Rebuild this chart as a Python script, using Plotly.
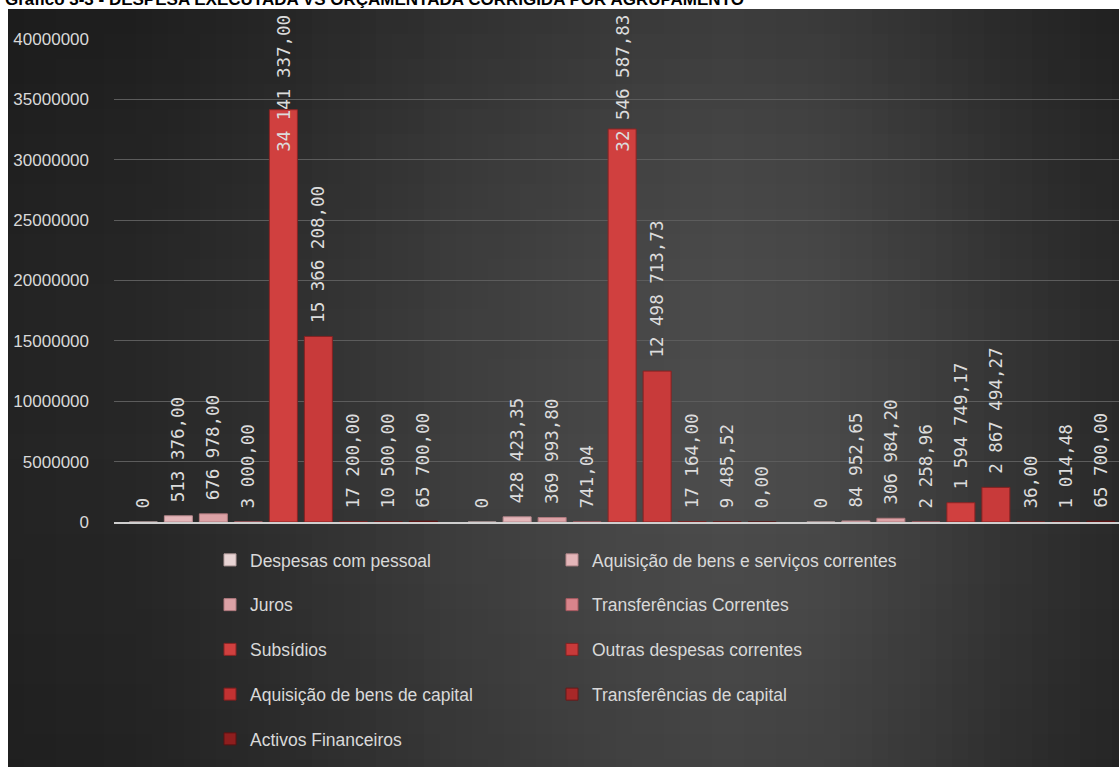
import plotly.graph_objects as go

# ---------------- data ----------------
categories = ["Orçamentada corrigida", "Executada", "Desvio"]
series_names = [
    "Despesas com pessoal",
    "Aquisição de bens e serviços correntes",
    "Juros",
    "Transferências Correntes",
    "Subsídios",
    "Outras despesas correntes",
    "Aquisição de bens de capital",
    "Transferências de capital",
    "Activos Financeiros",
]
orcamentada = [0, 513376.00, 676978.00, 3000.00, 34141337.00, 15366208.00, 17200.00, 10500.00, 65700.00]
executada = [0, 428423.35, 369993.80, 741.04, 32546587.83, 12498713.73, 17164.00, 9485.52, 0.00]
desvio = [0, 84952.65, 306984.20, 2258.96, 1594749.17, 2867494.27, 36.00, 1014.48, 65700.00]
y_tick_values = [0, 5000000, 10000000, 15000000, 20000000, 25000000, 30000000, 35000000, 40000000]

title_text = "Gráfico 3-3 - DESPESA EXECUTADA VS ORÇAMENTADA CORRIGIDA POR AGRUPAMENTO"

# ---------------- styles ----------------
colors = ["#e8d4d4", "#e4b6b9", "#dca2a6", "#d8848b", "#d0403f",
          "#c83a3a", "#c23232", "#a82828", "#8e1e1e"]
line_colors = ["#b8a0a0", "#b88a8e", "#b07a7e", "#a85a60", "#8a2424",
               "#842222", "#7e1e1e", "#6a1818", "#5a1212"]
LABEL_FONT = dict(family="DejaVu Sans Mono", size=17.5, color="#dcdcdc")

W, H = 1119, 767
ML, MR, MT, MB = 114, 0, 39, 245
PW, PH = W - ML - MR, H - MT - MB
CAT_PX = 338.75
BARGAP = 1 - 9 * 35 / CAT_PX
BARGROUPGAP = 0.2
BIG = 30000000


def px_x(p):
    return (p - ML) / PW


def px_y(p):
    return (H - MB - p) / PH


def fmt(v, i):
    if i == 0:
        return "0"
    s = f"{v:,.2f}"
    return s.replace(",", " ").replace(".", ",")


fig = go.Figure()
annotations = []
slot = (1 - BARGAP) / len(series_names)
for i, name in enumerate(series_names):
    vals = [orcamentada[i], executada[i], desvio[i]]
    texts = []
    for j, v in enumerate(vals):
        if v > BIG:
            texts.append("")
            annotations.append(dict(
                x=j - (1 - BARGAP) / 2 + slot * (i + 0.5), y=y_tick_values[-1],
                xref="x", yref="y", text=fmt(v, i), textangle=-90,
                showarrow=False, yanchor="top", xanchor="center", yshift=26,
                font=LABEL_FONT))
        else:
            texts.append("\u00a0" + fmt(v, i))
    fig.add_trace(go.Bar(
        name=name, x=categories, y=vals, text=texts,
        textposition="outside", textangle=-90, cliponaxis=False,
        constraintext="none",
        textfont=LABEL_FONT,
        marker=dict(color=colors[i], line=dict(color=line_colors[i], width=1)),
        legendgroup=name,
        legendwidth=(297 if i % 2 == 0 else 345),
    ))

# ---------------- background gradient ----------------
shapes = []
shapes.append(dict(type="rect", xref="paper", yref="paper", layer="below",
                   x0=px_x(8), x1=px_x(W + 2), y0=px_y(H + 2), y1=px_y(9),
                   fillcolor="#3a3a3a", line=dict(width=0)))
ctrl = [(8, 36), (150, 40), (300, 50), (450, 62), (600, 72), (720, 77),
        (820, 74), (920, 64), (1020, 52), (1119, 42)]


def gray_at(p):
    for (a, ca), (b, cb) in zip(ctrl[:-1], ctrl[1:]):
        if a <= p <= b:
            return ca + (cb - ca) * (p - a) / (b - a)
    return ctrl[-1][1]


step = 16
p = 8
while p < W:
    g = int(round(gray_at(p + step / 2)))
    shapes.append(dict(type="rect", xref="paper", yref="paper", layer="below",
                       x0=px_x(p), x1=px_x(min(p + step, W) + 0.5),
                       y0=px_y(H + 2), y1=px_y(9),
                       fillcolor=f"rgb({g},{g},{g})", line=dict(width=0)))
    p += step
vctrl = [(9, 0.22), (150, 0.10), (300, 0.02), (450, 0.0), (600, 0.04), (767, 0.12)]


def alpha_at(q):
    for (a, ca), (b, cb) in zip(vctrl[:-1], vctrl[1:]):
        if a <= q <= b:
            return ca + (cb - ca) * (q - a) / (b - a)
    return vctrl[-1][1]


vstep = 25
q = 9
while q < H:
    a = alpha_at(q + vstep / 2)
    shapes.append(dict(type="rect", xref="paper", yref="paper", layer="below",
                       x0=px_x(8), x1=px_x(W + 2), y0=px_y(min(q + vstep, H + 2)), y1=px_y(q),
                       fillcolor=f"rgba(0,0,0,{a:.3f})", line=dict(width=0)))
    q += vstep

annotations.append(dict(
    x=px_x(3), y=px_y(11), xref="paper", yref="paper", xanchor="left", yanchor="bottom",
    text=title_text, showarrow=False,
    font=dict(family="Liberation Sans", size=17, color="black", weight="bold")))

fig.update_layout(
    width=W, height=H, template="none",
    margin=dict(l=ML, r=MR, t=MT, b=MB, pad=0, autoexpand=False),
    paper_bgcolor="white", plot_bgcolor="rgba(0,0,0,0)",
    barmode="group", bargap=BARGAP, bargroupgap=BARGROUPGAP,
    separators=", ",
    shapes=shapes, annotations=annotations,
    showlegend=True,
    legend=dict(orientation="h", x=px_x(210), xanchor="left", y=px_y(542), yanchor="top",
                entrywidth=297, entrywidthmode="pixels", tracegroupgap=19,
                traceorder="grouped", bgcolor="rgba(0,0,0,0)",
                font=dict(family="Liberation Sans", size=17.5, color="#d9d9d9")),
    xaxis=dict(range=[-0.5, -0.5 + PW / CAT_PX], showticklabels=False, showgrid=False,
               ticks="", showline=True, linecolor="#cfcfcf", linewidth=2, zeroline=False,
               automargin=False, fixedrange=True),
    yaxis=dict(range=[0, y_tick_values[-1]], tickvals=y_tick_values, tickformat="d",
               showgrid=True, gridcolor="#5c5c5c", gridwidth=1, zeroline=False, showline=False,
               ticks="", ticklabelstandoff=24, automargin=False,
               tickfont=dict(family="Liberation Sans", size=17, color="#d9d9d9")),
)

fig.write_html("out.html")
